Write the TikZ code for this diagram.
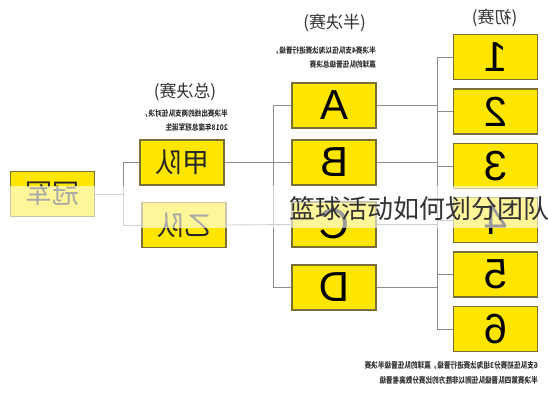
\documentclass[tikz,border=0pt]{standalone}
\usepackage{fontspec}
\setmainfont{Liberation Sans}
\newfontfamily\cjk{Noto Sans CJK SC}
\definecolor{boxyellow}{HTML}{FFE600}
\definecolor{boxline}{HTML}{7A6F36}
\definecolor{lineg}{HTML}{8C8C8C}
\definecolor{txtg}{HTML}{333333}
\begin{document}
\begin{tikzpicture}[x=1pt,y=-1pt,
  box/.style={draw=boxline, fill=boxyellow, line width=1.1pt, minimum width=84pt, minimum height=45pt, inner sep=0pt},
  letter/.style={box, font=\fontsize{42}{42}\selectfont, text=black},
  cnbox/.style={box, font=\cjk\fontsize{27}{27}\selectfont, text=black!85},
  conn/.style={draw=lineg, line width=0.9pt},
  title/.style={font=\cjk\fontsize{17}{17}\selectfont, text=txtg, inner sep=0pt},
  note/.style={font=\cjk\bfseries\fontsize{6.6}{12}\selectfont, text=txtg, inner sep=0pt}
]
\useasboundingbox (0,0) rectangle (548,400);
\fill[white] (0,0) rectangle (548,400);
\coordinate (k1) at (123,0);
\coordinate (k2) at (273,0);
\coordinate (k3) at (437,0);
% boxes
\node[cnbox] (champ) at (52.5,194) {\reflectbox{冠军}};
\node[cnbox] (jia) at (182,162.5) {\reflectbox{甲队}};
\node[cnbox] (yi) at (184,225) {\reflectbox{乙队}};
\node[letter] (A) at (334,105.5) {\reflectbox{A}};
\node[letter] (B) at (334,162.5) {\reflectbox{B}};
\node[letter] (C) at (334,224.5) {\reflectbox{C}};
\node[letter] (D) at (334,287.5) {\reflectbox{D}};
\node[letter] (n1) at (495.5,57) {\reflectbox{1}};
\node[letter] (n2) at (495.5,111.5) {\reflectbox{2}};
\node[letter] (n3) at (495.5,166) {\reflectbox{3}};
\node[letter] (n4) at (495.5,220) {\reflectbox{4}};
\node[letter] (n5) at (495.5,274.5) {\reflectbox{5}};
\node[letter] (n6) at (495.5,329) {\reflectbox{6}};
% connectors
\draw[conn] (champ.east) -- (champ.east -| k1);
\draw[conn] (jia.west) -| (yi.west -| k1) -- (yi.west);
\draw[conn] (jia.east) -- (B.west);
\draw[conn] (yi.east) -- (C.west);
\draw[conn] (A.west) -| (D.west -| k2) -- (D.west);
\foreach \s in {A,B,C,D} \draw[conn] (\s.east) -- (\s.east -| k3);
\draw[conn] (n1.west) -| (n6.west -| k3) -- (n6.west);
\foreach \s in {n2,n3,n4,n5} \draw[conn] (\s.west) -- (\s.west -| k3);
% titles
\node[title] (t1) at (494.5,18) {\reflectbox{(初赛)}};
\node[title] (t2) at (334.5,23) {\reflectbox{(半决赛)}};
\node[title] (t3) at (185,92) {\reflectbox{(总决赛)}};
% notes
\node[note, anchor=north east] (s2) at (376,43) {\scalebox{-1}[1.2]{\begin{tabular}{@{}l@{}}半决赛4支队伍以淘汰赛进行晋级，\\赢球的队伍晋级总决赛\end{tabular}}};
\node[note, anchor=north east] (s3) at (228,106) {\scalebox{-1}[1.2]{\begin{tabular}{@{}l@{}}半决赛出线的两支队伍对决，\\2018年度总冠军诞生\end{tabular}}};
\node[note, anchor=north east] (s1) at (538,358) {\scalebox{-1}[1.25]{\begin{tabular}{@{}l@{}}6支队伍初赛分3组淘汰赛进行晋级，赢球的队伍晋级半决赛\\半决赛第四队晋级队伍则以非胜方的比赛分数高者晋级\end{tabular}}};
% watermark band
\fill[white, opacity=0.6] (0,186) rectangle (548,228);
\node[anchor=west, inner sep=0pt, font=\cjk\fontsize{26}{26}\selectfont, text=black!80] (wm) at (289,209) {篮球活动如何划分团队};
\end{tikzpicture}
\end{document}
